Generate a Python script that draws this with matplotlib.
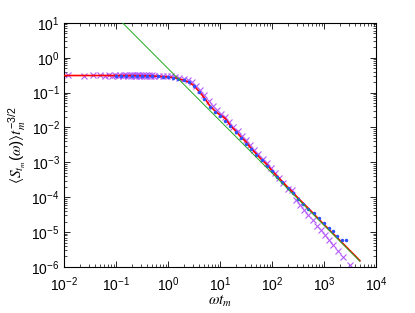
import math
import matplotlib
matplotlib.use('Agg')
import matplotlib.pyplot as plt
from matplotlib.ticker import LogLocator, FixedLocator, FuncFormatter

plt.rcParams['font.family'] = ['Liberation Sans', 'DejaVu Sans']
plt.rcParams['mathtext.fontset'] = 'custom'
plt.rcParams['mathtext.rm'] = 'Liberation Sans'
plt.rcParams['mathtext.it'] = 'STIXGeneral:italic'
plt.rcParams['mathtext.bf'] = 'Liberation Sans:bold'
plt.rcParams['mathtext.fallback'] = 'stix'

# red curve
red_x = [0.01, 0.1, 0.316, 0.5, 1.0, 1.26, 1.58, 2.0, 2.51, 3.16, 3.98, 5.01, 6.31, 7.94,
         10, 12.6, 15.8, 20, 25.1, 31.6, 39.8, 50.1, 63.1, 79.4, 100, 126, 158, 200, 251,
         316, 398, 501, 631, 794, 1000, 1259, 1585, 1995, 2512, 3162, 3981, 4900]
red_y = [0.309, 0.309, 0.305, 0.30, 0.282, 0.269, 0.251, 0.229, 0.20, 0.158, 0.107, 0.0708,
         0.0427, 0.0302, 0.0229, 0.0182, 0.0115, 0.00794, 0.00537, 0.00389, 0.00251,
         0.00174, 0.00120, 0.000871, 0.000575, 0.000398, 0.000282, 0.000195, 0.000138,
         9.55e-5, 6.76e-5, 4.79e-5, 3.39e-5, 2.34e-5, 1.66e-5, 1.17e-5, 8.32e-6, 5.89e-6,
         4.17e-6, 2.95e-6, 2.09e-6, 1.51e-6]

# blue dots
blue_x = [0.1, 0.126, 0.158, 0.2, 0.251, 0.316, 0.398, 0.501, 0.631, 0.794, 1.0, 1.26, 1.58,
          2.0, 2.51, 3.16, 3.98, 5.01, 6.31, 7.94, 10, 12.6, 15.8, 20, 25.1, 31.6, 39.8, 50.1,
          63.1, 79.4, 100, 126, 158, 200, 251, 316, 398, 501, 631, 794, 1000, 1259, 1479,
          1778, 2188, 2630]
blue_y = [0.309, 0.309, 0.309, 0.305, 0.309, 0.302, 0.302, 0.299, 0.295, 0.288, 0.282, 0.269,
          0.251, 0.224, 0.195, 0.155, 0.105, 0.0676, 0.0398, 0.0282, 0.0219, 0.0158, 0.0107,
          0.00741, 0.00513, 0.00347, 0.0024, 0.00166, 0.00115, 0.000794, 0.000562, 0.00038,
          0.000269, 0.000186, 0.000132, 8.91e-5, 6.61e-5, 4.68e-5, 3.55e-5, 2.51e-5, 1.82e-5,
          1.32e-5, 1.10e-5, 7.59e-6, 6.03e-6, 5.75e-6]

# purple crosses
cross_x = [0.0122, 0.0244, 0.0366, 0.0488, 0.061, 0.0732, 0.0854, 0.0976, 0.11, 0.122, 0.134,
           0.146, 0.159, 0.171, 0.183, 0.195, 0.207, 0.22, 0.232, 0.244, 0.256, 0.268, 0.281,
           0.293, 0.305, 0.33, 0.354, 0.378, 0.403, 0.427, 0.451, 0.476, 0.50,
           0.55, 0.661, 0.794, 0.955, 1.15, 1.38, 1.66, 2.0, 2.4, 2.88, 3.47, 4.17, 5.01, 6.03,
           7.24, 8.71, 10.5, 12.6, 15.1, 18.2, 21.9, 26.3, 31.6, 38.0, 45.7, 55.0, 66.1, 79.4,
           95.5, 115, 138, 166, 200, 240, 288, 347, 417, 501, 603, 724, 871, 1047, 1259, 1514,
           1862, 2344, 3162]
cross_y = [0.31, 0.308, 0.31, 0.312, 0.309, 0.31, 0.307, 0.311, 0.309, 0.31, 0.308, 0.31,
           0.312, 0.309, 0.31, 0.307, 0.31, 0.311, 0.309, 0.308, 0.31, 0.311, 0.309, 0.31,
           0.306, 0.31, 0.309, 0.311, 0.308, 0.31, 0.309, 0.307, 0.31,
           0.309, 0.305, 0.309, 0.302, 0.295, 0.282, 0.269, 0.251, 0.224, 0.195, 0.155, 0.115,
           0.0832, 0.0562, 0.0407, 0.0309, 0.0251, 0.0204, 0.0141, 0.0105, 0.00794, 0.00562,
           0.00427, 0.00316, 0.00224, 0.00174, 0.00126, 0.000955, 0.000676, 0.00049,
           0.000363, 0.000251, 0.00017, 0.000158, 8.32e-5, 5.89e-5, 4.17e-5, 3.02e-5,
           2.19e-5, 1.51e-5, 1.12e-5, 8.13e-6, 5.89e-6, 4.17e-6, 2.88e-6, 1.91e-6, 1.15e-6]

# green power law reference, omega^-3/2
green_x = [0.134, 4900]
green_y = [10.0, 1.46e-6]

fig = plt.figure(figsize=(4.15, 3.13), dpi=100)
ax = fig.add_axes([0.154, 0.147, 0.752, 0.78])

ax.loglog(cross_x, cross_y, 'x', color='#b45cff', ms=5, mew=0.8, zorder=2)
ax.loglog(red_x, red_y, '-', color='#ff0000', lw=1.2, zorder=3)
ax.loglog(blue_x, blue_y, '.', color='#2f4fff', ms=3, zorder=4)
ax.loglog(green_x, green_y, '-', color='#22aa22', lw=0.7, zorder=5)

ax.set_xlim(1e-2, 1e4)
ax.set_ylim(1e-6, 1e1)

fmt = FuncFormatter(lambda v, p: r'$\mathregular{10^{%d}}$' % round(math.log10(v)))
ax.xaxis.set_major_locator(FixedLocator([1e-2, 1e-1, 1e0, 1e1, 1e2, 1e3, 1e4]))
ax.yaxis.set_major_locator(FixedLocator([1e-6, 1e-5, 1e-4, 1e-3, 1e-2, 1e-1, 1e0, 1e1]))
ax.xaxis.set_major_formatter(fmt)
ax.yaxis.set_major_formatter(fmt)
ax.xaxis.set_minor_locator(LogLocator(base=10, subs=range(2, 10), numticks=20))
ax.yaxis.set_minor_locator(LogLocator(base=10, subs=range(2, 10), numticks=20))
ax.tick_params(which='both', direction='in', top=True, right=True, labelsize=10)
ax.tick_params(which='major', length=4, width=0.6)
ax.tick_params(which='minor', length=2, width=0.5)
ax.tick_params(axis='x', pad=6)
ax.tick_params(axis='y', pad=3)
for s in ax.spines.values():
    s.set_linewidth(0.8)

ax.set_xlabel(r'$\omega t_m$', fontsize=11, labelpad=0)
ax.set_ylabel(r'$\langle S_{t_m}(\omega)\rangle t_m^{-3/2}$', fontsize=11, labelpad=2)

fig.savefig('out.png', dpi=100)
